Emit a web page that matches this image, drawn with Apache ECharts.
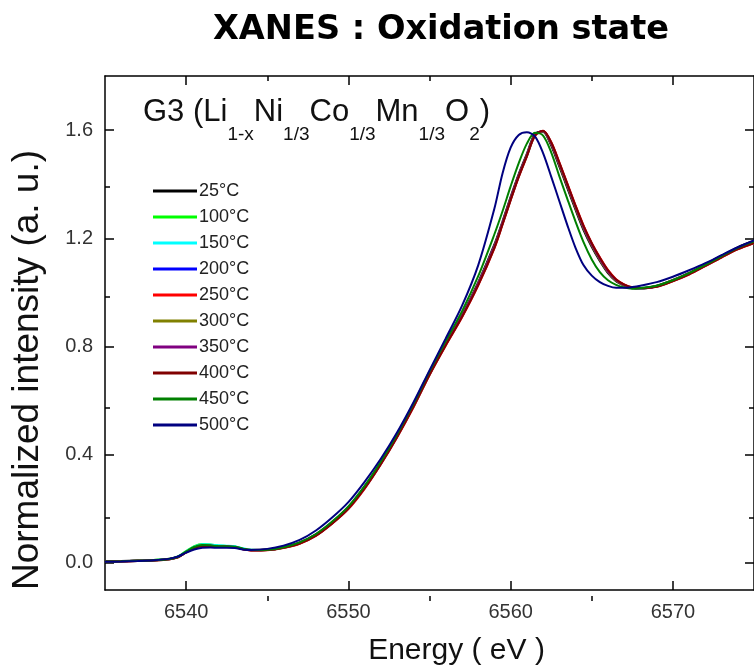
<!DOCTYPE html>
<html lang="en">
<head>
  <meta charset="UTF-8">
  <title>XANES : Oxidation state</title>
  <style>
    html, body{margin: 0; padding: 0; background: #fff}
    #chart{width: 754px; height: 671px}
  </style>
  <script src="https://cdn.jsdelivr.net/npm/echarts@6/dist/echarts.min.js"></script>
</head>
<body>
  <div id="chart"></div>
  <script>
    // energy grid (eV)
    const energy = [6535,6536,6537,6538,6539,6539.5,6540,6540.5,6541,6541.5,6542,6542.5,6543,6543.5,6544,
      6545,6546,6547,6548,6549,6550,6551,6552,6553,6554,6555,6556,6557,6558,6559,
      6559.5,6560,6560.5,6561,6561.5,6562,6562.5,6563,6563.5,6564,6564.5,6565,6565.5,6566,6566.5,6567,6567.5,6568,
      6569,6570,6571,6572,6573,6574,6575];

    const temps = ['25°C','100°C','150°C','200°C','250°C','300°C','350°C','400°C','450°C','500°C'];

    const s25 = [0.005,0.006,0.008,0.010,0.015,0.022,0.040,0.058,0.066,0.065,0.062,0.062,0.060,0.052,0.048,
      0.049,0.058,0.075,0.105,0.150,0.205,0.280,0.370,0.470,0.580,0.700,0.810,0.915,1.035,1.175,
      1.260,1.350,1.435,1.510,1.585,1.594,1.545,1.468,1.388,1.308,1.232,1.170,1.118,1.073,1.042,1.026,1.016,1.015,
      1.024,1.045,1.071,1.103,1.135,1.166,1.190];
    const s100 = [0.006,0.007,0.008,0.011,0.016,0.024,0.044,0.062,0.070,0.068,0.064,0.063,0.061,0.053,0.047,
      0.048,0.056,0.073,0.102,0.147,0.202,0.277,0.367,0.467,0.577,0.697,0.807,0.912,1.030,1.170,
      1.255,1.345,1.430,1.505,1.580,1.596,1.550,1.474,1.394,1.314,1.238,1.175,1.122,1.076,1.044,1.027,1.017,1.015,
      1.023,1.043,1.069,1.100,1.132,1.162,1.186];
    const s150 = [0.004,0.006,0.007,0.010,0.015,0.023,0.042,0.060,0.069,0.068,0.065,0.064,0.062,0.054,0.049,
      0.048,0.056,0.072,0.101,0.146,0.200,0.275,0.365,0.465,0.575,0.695,0.805,0.910,1.028,1.166,
      1.252,1.342,1.428,1.503,1.578,1.597,1.553,1.478,1.398,1.318,1.242,1.178,1.125,1.078,1.046,1.028,1.018,1.016,
      1.022,1.042,1.067,1.098,1.130,1.160,1.182];
    const s200 = [0.005,0.006,0.008,0.010,0.015,0.022,0.041,0.057,0.064,0.064,0.061,0.061,0.059,0.051,0.047,
      0.048,0.057,0.074,0.103,0.148,0.203,0.278,0.368,0.468,0.578,0.698,0.808,0.912,1.031,1.170,
      1.256,1.346,1.432,1.507,1.582,1.597,1.552,1.477,1.398,1.318,1.243,1.180,1.127,1.080,1.047,1.028,1.017,1.015,
      1.022,1.043,1.068,1.099,1.131,1.161,1.184];
    const s250 = [0.005,0.005,0.007,0.009,0.014,0.021,0.039,0.056,0.063,0.063,0.060,0.060,0.058,0.051,0.046,
      0.047,0.055,0.071,0.100,0.145,0.199,0.274,0.364,0.464,0.574,0.694,0.803,0.907,1.025,1.163,
      1.250,1.340,1.426,1.502,1.578,1.598,1.556,1.482,1.402,1.322,1.247,1.183,1.130,1.083,1.049,1.030,1.019,1.016,
      1.021,1.041,1.066,1.097,1.129,1.159,1.182];
    const s300 = [0.005,0.006,0.008,0.010,0.015,0.022,0.040,0.057,0.065,0.064,0.061,0.061,0.059,0.052,0.048,
      0.049,0.057,0.074,0.104,0.149,0.204,0.279,0.369,0.469,0.579,0.699,0.809,0.914,1.033,1.172,
      1.258,1.348,1.433,1.508,1.583,1.595,1.548,1.472,1.392,1.312,1.236,1.173,1.120,1.075,1.043,1.026,1.016,1.015,
      1.024,1.045,1.070,1.101,1.133,1.164,1.187];
    const s350 = [0.005,0.006,0.008,0.010,0.015,0.022,0.040,0.057,0.064,0.064,0.061,0.061,0.059,0.052,0.048,
      0.049,0.057,0.074,0.103,0.148,0.203,0.278,0.368,0.468,0.578,0.698,0.808,0.913,1.032,1.171,
      1.257,1.347,1.432,1.507,1.582,1.596,1.550,1.475,1.395,1.315,1.239,1.176,1.123,1.077,1.045,1.027,1.017,1.015,
      1.023,1.044,1.069,1.100,1.132,1.163,1.186];
    const s400 = [0.005,0.006,0.008,0.010,0.015,0.022,0.040,0.056,0.063,0.063,0.060,0.060,0.058,0.051,0.047,
      0.048,0.056,0.072,0.101,0.146,0.201,0.276,0.366,0.466,0.576,0.696,0.805,0.909,1.027,1.165,
      1.252,1.342,1.428,1.504,1.580,1.598,1.555,1.480,1.400,1.320,1.245,1.182,1.128,1.082,1.048,1.029,1.018,1.016,
      1.021,1.042,1.067,1.098,1.130,1.160,1.183];
    const s450 = [0.005,0.006,0.008,0.010,0.015,0.023,0.042,0.059,0.066,0.065,0.062,0.062,0.060,0.053,0.048,
      0.049,0.058,0.076,0.107,0.153,0.209,0.285,0.375,0.476,0.587,0.708,0.820,0.930,1.060,1.215,
      1.300,1.392,1.478,1.550,1.590,1.580,1.518,1.430,1.345,1.262,1.185,1.122,1.075,1.045,1.028,1.018,1.014,1.016,
      1.025,1.045,1.071,1.102,1.134,1.165,1.188];
    const s500 = [0.004,0.005,0.007,0.010,0.016,0.024,0.038,0.050,0.056,0.057,0.056,0.056,0.055,0.050,0.048,
      0.052,0.064,0.085,0.120,0.168,0.225,0.300,0.385,0.482,0.592,0.712,0.830,0.950,1.100,1.310,
      1.440,1.535,1.582,1.592,1.577,1.515,1.428,1.338,1.248,1.165,1.100,1.062,1.038,1.024,1.017,1.017,1.020,1.025,
      1.038,1.058,1.082,1.108,1.138,1.167,1.192];

    const xMajor = [6540,6550,6560,6570];
    const xMinor = [6545,6555,6565];
    const yMajor = [0,0.4,0.8,1.2,1.6];
    const yMinor = [0.2,0.6,1.0,1.4];

    const allValues = [s25,s100,s150,s200,s250,s300,s350,s400,s450,s500];
    const colors = ['#000000','#00ff00','#00ffff','#0000ff','#ff0000','#808000','#800080','#800000','#008000','#000080'];

    const chart = echarts.init(document.getElementById('chart'), null, {renderer: 'canvas'});

    const lineStyle = {color: '#000', width: 1.5};
    const tickFont = {fontFamily: 'Liberation Sans', fontSize: 20, color: '#333'};
    const plotRect = {left: 105, top: 76, width: 650, height: 525, containLabel: false};

    // major ticks + frame line (labels only on bottom / left)
    function xAx(pos, show){
      return {
        type: 'value', gridIndex: 0, position: pos, min: 6535, max: 6575,
        axisLine: {show: true, onZero: false, lineStyle: lineStyle},
        axisTick: {show: true, inside: true, length: 9, lineStyle: lineStyle, customValues: xMajor},
        axisLabel: Object.assign({show: show, margin: 12, customValues: xMajor,
          formatter: v => String(v)}, tickFont),
        splitLine: {show: false},
        name: show ? 'Energy ( eV )' : '',
        nameLocation: 'middle', nameGap: 46,
        nameTextStyle: {fontFamily: 'Liberation Sans', fontSize: 30, color: '#111', padding: [0,0,0,54]}
      };
    }
    function yAx(pos, show){
      return {
        type: 'value', gridIndex: 0, position: pos, min: -0.1, max: 1.8,
        axisLine: {show: true, onZero: false, lineStyle: lineStyle},
        axisTick: {show: true, inside: true, length: 9, lineStyle: lineStyle, customValues: yMajor},
        axisLabel: Object.assign({show: show, margin: 12, customValues: yMajor,
          formatter: v => v.toFixed(1)}, tickFont),
        splitLine: {show: false}
      };
    }
    // short minor ticks, on a second grid laid exactly over the first
    function xMin(pos){
      return {
        type: 'value', gridIndex: 1, position: pos, min: 6535, max: 6575,
        axisLine: {show: false, onZero: false},
        axisTick: {show: true, inside: true, length: 5, lineStyle: lineStyle, customValues: xMinor},
        axisLabel: {show: false}, splitLine: {show: false}
      };
    }
    function yMin(pos){
      return {
        type: 'value', gridIndex: 1, position: pos, min: -0.1, max: 1.8,
        axisLine: {show: false, onZero: false},
        axisTick: {show: true, inside: true, length: 5, lineStyle: lineStyle, customValues: yMinor},
        axisLabel: {show: false}, splitLine: {show: false}
      };
    }

    let option = {
      animation: false,
      backgroundColor: '#fff',
      title: {
        text: 'XANES : Oxidation state',
        left: 436, top: 8, textAlign: 'center',
        textStyle: {fontFamily: 'DejaVu Sans', fontWeight: 'bold', fontSize: 33.6, color: '#000'}
      },
      grid: [Object.assign({}, plotRect), Object.assign({}, plotRect)],
      xAxis: [xAx('bottom', true), xAx('top', false), xMin('bottom'), xMin('top')],
      yAxis: [yAx('left', true), yAx('right', false), yMin('left'), yMin('right')],
      legend: {
        orient: 'vertical', left: 148, top: 176,
        icon: 'rect', itemWidth: 44, itemHeight: 3, itemGap: 6,
        textStyle: {fontFamily: 'Liberation Sans', fontSize: 18, lineHeight: 20, color: '#222', padding: [0,0,0,-3]},
        data: temps
      },
      graphic: [{
        type: 'text', left: 143, top: 97,
        style: {
          text: '{m|G3 (Li}{s|1-x}{m|Ni}{s|1/3}{m|Co}{s|1/3}{m|Mn}{s|1/3}{m|O}{s|2}{m|)}',
          rich: {
            m: {fontFamily: 'Liberation Sans', fontSize: 31, lineHeight: 34, verticalAlign: 'top', fill: '#111'},
            s: {fontFamily: 'Liberation Sans', fontSize: 19, lineHeight: 47, verticalAlign: 'bottom', fill: '#111'}
          }
        }
      }, {
        type: 'text', x: 28, y: 370, rotation: Math.PI / 2,
        style: {
          text: 'Normalized intensity (a. u.)',
          fontFamily: 'Liberation Sans', fontSize: 37, fill: '#111',
          align: 'center', verticalAlign: 'middle'
        }
      }],
      series: temps.map((t, i) => ({
        name: t, type: 'line', xAxisIndex: 0, yAxisIndex: 0,
        showSymbol: false, smooth: 0.3,
        color: colors[i],
        lineStyle: {width: i === 0 ? 2.5 : 2},
        data: energy.map((e, j) => [e, allValues[i][j]])
      }))
    };

    chart.setOption(option);
  </script>
</body>
</html>
